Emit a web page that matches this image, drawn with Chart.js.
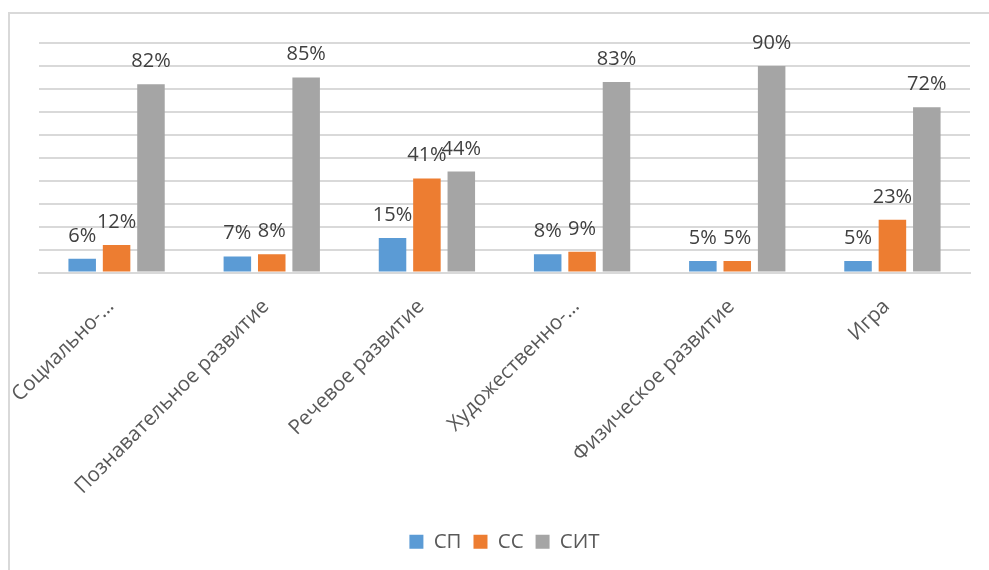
<!DOCTYPE html>
<html>
<head>
    <title>Bar Chart</title>
    <script src="https://cdn.jsdelivr.net/npm/chart.js"></script>
    <style>
        body {
            margin: 0;
            background: #ffffff;
        }
        .frame {
            position: absolute;
            left: 8px;
            top: 12px;
            width: 990px;
            height: 570px;
            border-left: 2px solid #d9d9d9;
            border-top: 2px solid #d9d9d9;
        }
        .chart {
            position: absolute;
            left: 0;
            top: 0;
            width: 989px;
            height: 570px;
        }
    </style>
</head>
<body>
    <div class="frame"></div>
    <div class="chart">
        <canvas id="barChart" width="989" height="570"></canvas>
    </div>
    <script>
        const categories = [
            'Социально-…',
            'Познавательное развитие',
            'Речевое развитие',
            'Художественно-…',
            'Физическое развитие',
            'Игра'
        ];
        const seriesNames = ['СП', 'СС', 'СИТ'];
        const spValues = [6, 7, 15, 8, 5, 5];
        const ssValues = [12, 8, 41, 9, 5, 23];
        const sitValues = [82, 85, 44, 83, 90, 72];
        const colors = ['#5b9bd5', '#ed7d31', '#a5a5a5'];

        // value labels above every bar
        const valueLabels = {
            id: 'valueLabels',
            afterDatasetsDraw(chart) {
                const ctx = chart.ctx;
                ctx.save();
                ctx.font = '20px "Open Sans"';
                ctx.fillStyle = '#404040';
                ctx.textAlign = 'center';
                ctx.textBaseline = 'alphabetic';
                chart.data.datasets.forEach((ds, i) => {
                    chart.getDatasetMeta(i).data.forEach((bar, j) => {
                        ctx.fillText(ds.data[j] + '%', bar.x, bar.y - 17);
                    });
                });
                ctx.restore();
            }
        };

        const ctx = document.getElementById('barChart').getContext('2d');
        new Chart(ctx, {
            type: 'bar',
            data: {
                labels: categories,
                datasets: [
                    { label: seriesNames[0], data: spValues, backgroundColor: colors[0] },
                    { label: seriesNames[1], data: ssValues, backgroundColor: colors[1] },
                    { label: seriesNames[2], data: sitValues, backgroundColor: colors[2] }
                ]
            },
            options: {
                responsive: false,
                animation: false,
                layout: {
                    padding: { left: 39, right: 19, top: 43, bottom: 8 }
                },
                datasets: {
                    bar: {
                        categoryPercentage: 0.665,
                        barPercentage: 0.8
                    }
                },
                scales: {
                    x: {
                        grid: { display: false },
                        border: { color: '#d9d9d9', width: 2 },
                        ticks: {
                            minRotation: 45,
                            maxRotation: 45,
                            padding: 14,
                            labelOffset: -6,
                            color: '#595959',
                            font: { family: '"Open Sans"', size: 20.5 }
                        },
                        afterFit(scale) {
                            scale.height = 247;
                            // labels may hang past the plot edge, as in the original
                            scale.paddingLeft = 0;
                            scale.paddingRight = 0;
                        }
                    },
                    y: {
                        min: 0,
                        max: 100,
                        ticks: { stepSize: 10, display: false },
                        grid: { color: '#d9d9d9', lineWidth: 2, drawTicks: false },
                        border: { display: false }
                    }
                },
                plugins: {
                    tooltip: { enabled: false },
                    legend: {
                        position: 'bottom',
                        labels: {
                            boxWidth: 14,
                            boxHeight: 14,
                            padding: 12,
                            color: '#595959',
                            font: { family: '"Open Sans"', size: 20.5 }
                        }
                    }
                }
            },
            plugins: [valueLabels]
        });
    </script>
</body>
</html>
